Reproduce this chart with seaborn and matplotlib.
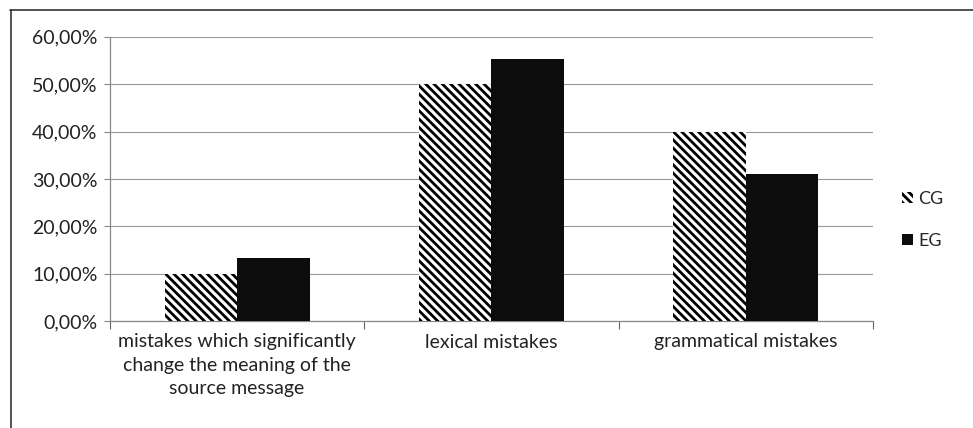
import seaborn as sns
import matplotlib.pyplot as plt
from matplotlib.lines import Line2D
from matplotlib.ticker import FuncFormatter, FixedLocator
import pandas as pd

# values
categories = ['mistakes which significantly\nchange the meaning of the\nsource message',
              'lexical mistakes', 'grammatical mistakes']
cg_values = [0.10, 0.50, 0.40]
eg_values = [0.133, 0.553, 0.311]
groups = ['CG', 'EG']

df = pd.DataFrame({
    'category': categories * 2,
    'value': cg_values + eg_values,
    'group': ['CG'] * 3 + ['EG'] * 3,
})

sns.set_style('white')
plt.rcParams['font.family'] = ['Lato', 'DejaVu Sans']
plt.rcParams['hatch.linewidth'] = 2.0

fig = plt.figure(figsize=(9.73, 4.28), dpi=100)
ax = fig.add_axes([0.113, 0.25, 0.784, 0.664])

sns.barplot(data=df, x='category', y='value', hue='group', hue_order=groups,
            palette={'CG': 'white', 'EG': '#0c0c0c'}, width=0.57, gap=0,
            linewidth=0, saturation=1, ax=ax, zorder=3)

# hatch the CG bars
for bar in ax.containers[0]:
    bar.set_hatch('\\\\\\\\')
    bar.set_edgecolor('black')
    bar.set_linewidth(0)

ax.set_ylim(0, 0.6)
ax.set_xlim(-0.5, 2.5)
ax.yaxis.set_major_locator(FixedLocator([0, 0.1, 0.2, 0.3, 0.4, 0.5, 0.6]))
ax.yaxis.set_major_formatter(FuncFormatter(lambda v, p: f'{v * 100:.2f}%'.replace('.', ',')))
ax.grid(axis='y', color='#9a9a9a', linewidth=0.8, zorder=0)
ax.set_xlabel('')
ax.set_ylabel('')

for s in ['top', 'right']:
    ax.spines[s].set_visible(False)
for s in ['left', 'bottom']:
    ax.spines[s].set_color('#888888')
    ax.spines[s].set_linewidth(0.9)

fs = 14
ax.tick_params(axis='y', labelsize=fs, colors='#222222', left=True, length=4, width=0.8,
               color='#888888', pad=5)
ax.tick_params(axis='x', which='major', labelsize=fs, colors='#222222', length=0, pad=9)
ax.xaxis.set_minor_locator(FixedLocator([-0.5, 0.5, 1.5, 2.5]))
ax.tick_params(axis='x', which='minor', bottom=True, length=6, width=0.8, color='#666666')
for lbl in ax.get_xticklabels():
    lbl.set_linespacing(1.45)

leg = ax.legend(loc='center left', bbox_to_anchor=(0.91, 0.486), bbox_transform=fig.transFigure,
                frameon=False, fontsize=fs - 1, handlelength=0.6, handleheight=0.6,
                handletextpad=0.3, labelspacing=1.45)
h = leg.legend_handles[0]
h.set_hatch('\\\\\\\\')
h.set_edgecolor('black')
h.set_linewidth(0)

# outer frame of the original picture
fig.add_artist(Line2D([0.01, 1.0], [0.977, 0.977], color='#333333', linewidth=1.2))
fig.add_artist(Line2D([0.011, 0.011], [0.0, 0.977], color='#333333', linewidth=1.2))

plt.savefig('out.png', dpi=100)
